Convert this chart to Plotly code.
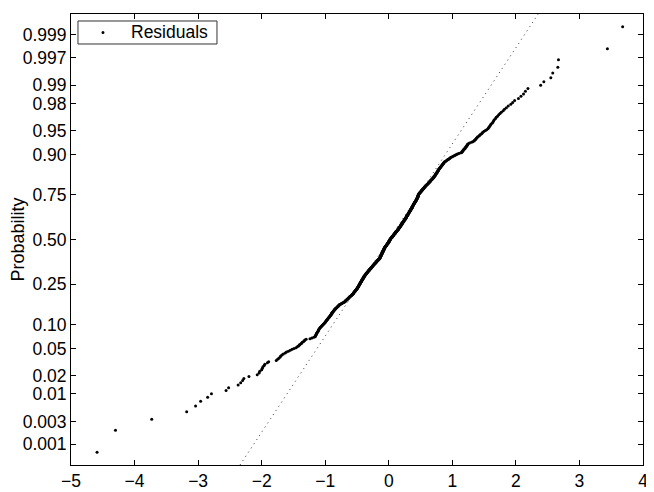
import numpy as np
import plotly.graph_objects as go
from statistics import NormalDist

# sorted residuals (lowest to highest)
resid_low = [-4.59, -4.30, -3.73, -3.18, -3.04, -2.96, -2.85, -2.79, -2.56, -2.52,
             -2.37, -2.33, -2.30, -2.28, -2.20, -2.07, -2.04, -2.03,
             -2.00, -1.99, -1.98, -1.96, -1.95, -1.91, -1.89, -1.77, -1.75, -1.73, -1.71, -1.70,
             -1.68, -1.66, -1.63, -1.61, -1.58, -1.55, -1.52, -1.49, -1.46, -1.44,
             -1.42, -1.41, -1.40, -1.38, -1.37, -1.36, -1.34, -1.33, -1.32, -1.30,
             -1.24, -1.21, -1.18, -1.16, -1.155, -1.15, -1.145, -1.14, -1.135, -1.13,
             -1.125, -1.12, -1.112, -1.108, -1.104, -1.100, -1.096,
             -1.089, -1.081, -1.074, -1.066, -1.059, -1.051, -1.044, -1.036, -1.029, -1.021, -1.014, -1.006,
             -1.000, -0.995, -0.989, -0.984, -0.978, -0.972, -0.967, -0.961, -0.956, -0.950,
             -0.944, -0.939, -0.933, -0.928]

resid_lower_mid = [-0.92, -0.92, -0.91, -0.91, -0.90, -0.90, -0.90, -0.89, -0.89, -0.88,
                   -0.88, -0.87, -0.87, -0.86, -0.86, -0.85, -0.85,
                   -0.84, -0.84, -0.83, -0.82, -0.82, -0.81, -0.81, -0.80, -0.79, -0.79,
                   -0.78, -0.78, -0.77,
                   -0.76, -0.75, -0.74, -0.73, -0.72, -0.71, -0.70, -0.69, -0.69, -0.68,
                   -0.68, -0.67, -0.67,
                   -0.66, -0.65, -0.65, -0.64, -0.64, -0.63, -0.63, -0.62, -0.62, -0.61,
                   -0.61, -0.60, -0.59, -0.59, -0.58, -0.58, -0.57,
                   -0.57, -0.56, -0.56, -0.56, -0.55, -0.55, -0.55, -0.54, -0.54, -0.53,
                   -0.53, -0.53, -0.52, -0.52, -0.52, -0.51,
                   -0.51, -0.50, -0.50, -0.50, -0.50, -0.49, -0.49, -0.49, -0.48, -0.48,
                   -0.48, -0.48, -0.47, -0.47, -0.47, -0.47, -0.46, -0.46, -0.46, -0.46,
                   -0.45, -0.45, -0.45, -0.45,
                   -0.44, -0.44, -0.44, -0.44, -0.43, -0.43, -0.43, -0.43, -0.42, -0.42,
                   -0.42, -0.42, -0.41, -0.41, -0.41, -0.41, -0.40, -0.40, -0.40, -0.40,
                   -0.39, -0.39, -0.39, -0.39,
                   -0.39, -0.38, -0.38, -0.38, -0.37, -0.37, -0.37, -0.36, -0.36, -0.36,
                   -0.35, -0.35, -0.35, -0.34, -0.34, -0.34, -0.33, -0.33, -0.33, -0.32,
                   -0.32, -0.32, -0.31, -0.31, -0.31, -0.31]

resid_center = [-0.30, -0.30, -0.30, -0.29, -0.29, -0.29, -0.28, -0.28, -0.28, -0.27,
                -0.27, -0.27, -0.26, -0.26, -0.26, -0.25, -0.25, -0.25, -0.24, -0.24,
                -0.24, -0.23, -0.23, -0.23, -0.22, -0.22, -0.22, -0.21, -0.21, -0.21,
                -0.20, -0.20, -0.20, -0.19, -0.19, -0.19, -0.18, -0.18, -0.18, -0.17,
                -0.17, -0.17, -0.16, -0.16, -0.16, -0.15, -0.15, -0.15, -0.14, -0.14,
                -0.14, -0.14, -0.14, -0.13, -0.13, -0.13, -0.13, -0.13, -0.13,
                -0.12, -0.12, -0.12, -0.12, -0.12, -0.12, -0.11, -0.11, -0.11, -0.11,
                -0.11, -0.11, -0.10, -0.10, -0.10, -0.10, -0.10, -0.10,
                -0.09, -0.09, -0.09, -0.09, -0.09, -0.09, -0.08, -0.08, -0.08, -0.08,
                -0.08, -0.08, -0.07, -0.07, -0.07, -0.07, -0.07,
                -0.07, -0.06, -0.06, -0.06, -0.06, -0.05, -0.05, -0.05, -0.05,
                -0.04, -0.04, -0.04, -0.04, -0.03, -0.03, -0.03, -0.03,
                -0.02, -0.02, -0.02, -0.02, -0.01, -0.01, -0.01, -0.01,
                0.00, 0.00, 0.00, 0.00, 0.00, 0.01, 0.01, 0.01, 0.01, 0.01, 0.02, 0.02,
                0.02, 0.02, 0.02, 0.03, 0.03, 0.03, 0.03, 0.04, 0.04, 0.04,
                0.05, 0.05, 0.05, 0.05, 0.06, 0.06, 0.06, 0.07, 0.07, 0.07, 0.07,
                0.08, 0.08, 0.08, 0.08, 0.09, 0.09, 0.09, 0.10, 0.10, 0.10, 0.10,
                0.11, 0.11, 0.11, 0.12, 0.12, 0.12, 0.12, 0.13, 0.13, 0.13,
                0.14, 0.14, 0.14, 0.14, 0.15, 0.15, 0.15, 0.15, 0.16, 0.16,
                0.16, 0.16, 0.17, 0.17, 0.17, 0.17, 0.18, 0.18, 0.18, 0.18,
                0.19, 0.19, 0.19, 0.19, 0.20, 0.20, 0.20, 0.20,
                0.21, 0.21, 0.21, 0.21, 0.21, 0.22, 0.22, 0.22, 0.22,
                0.23, 0.23, 0.23, 0.23, 0.24, 0.24, 0.24, 0.24,
                0.25, 0.25, 0.25, 0.25, 0.26, 0.26, 0.26, 0.26,
                0.27, 0.27, 0.27, 0.27, 0.27, 0.28, 0.28, 0.28]

resid_upper_mid = [0.28, 0.28, 0.29, 0.29, 0.29, 0.29, 0.30, 0.30, 0.30, 0.30,
                   0.31, 0.31, 0.31, 0.31, 0.31, 0.32, 0.32, 0.32, 0.32,
                   0.33, 0.33, 0.33, 0.33, 0.34, 0.34, 0.34, 0.34, 0.34,
                   0.35, 0.35, 0.35, 0.35, 0.36, 0.36, 0.36, 0.36, 0.36,
                   0.37, 0.37, 0.37, 0.37,
                   0.37, 0.37, 0.38, 0.38, 0.38, 0.38, 0.39, 0.39, 0.39, 0.39,
                   0.40, 0.40, 0.40, 0.40, 0.41, 0.41, 0.41, 0.41, 0.42, 0.42, 0.42, 0.42,
                   0.43, 0.43, 0.43, 0.43, 0.43, 0.44, 0.44, 0.44, 0.44,
                   0.45, 0.45, 0.45, 0.45, 0.45, 0.46, 0.46,
                   0.46, 0.46, 0.46, 0.46, 0.46, 0.47, 0.47, 0.47, 0.47, 0.47, 0.48, 0.48,
                   0.48, 0.49, 0.49, 0.50, 0.50, 0.50, 0.51, 0.51, 0.51, 0.52, 0.52,
                   0.53, 0.53, 0.53, 0.54, 0.54, 0.55, 0.55, 0.55, 0.56, 0.56,
                   0.57, 0.57, 0.57, 0.58, 0.58, 0.59, 0.59,
                   0.60, 0.60, 0.61, 0.61, 0.62, 0.62, 0.63, 0.63, 0.64, 0.64, 0.65,
                   0.65, 0.65, 0.66, 0.66, 0.67, 0.67, 0.68, 0.68, 0.69, 0.69,
                   0.70, 0.70, 0.71, 0.71, 0.71, 0.72, 0.72,
                   0.73, 0.73, 0.73, 0.74, 0.74, 0.74, 0.75, 0.75, 0.76, 0.76,
                   0.76, 0.77, 0.77, 0.77, 0.78, 0.78, 0.78, 0.79, 0.79, 0.80,
                   0.80, 0.81, 0.81, 0.82, 0.82, 0.83, 0.83, 0.84, 0.84, 0.85,
                   0.85, 0.86, 0.86, 0.87, 0.87, 0.88]

resid_high = [0.89, 0.90, 0.91, 0.92, 0.93, 0.94, 0.95, 0.96, 0.97, 0.98,
              1.00, 1.01, 1.03, 1.04, 1.06, 1.07, 1.09, 1.11, 1.14,
              1.15, 1.15, 1.16, 1.17, 1.17, 1.18, 1.19, 1.20,
              1.20, 1.21, 1.22, 1.22, 1.23, 1.24, 1.24, 1.25,
              1.27, 1.30, 1.32,
              1.34, 1.35, 1.36, 1.37, 1.38, 1.39, 1.40,
              1.42, 1.43, 1.44, 1.46, 1.47, 1.48,
              1.50, 1.52, 1.54, 1.56,
              1.57, 1.58, 1.59, 1.60, 1.61,
              1.63, 1.64, 1.65, 1.66, 1.68, 1.69,
              1.71, 1.73, 1.75, 1.77, 1.80, 1.82,
              1.85, 1.88, 1.92, 1.95, 1.98,
              2.04, 2.08, 2.12, 2.15, 2.19, 2.39, 2.44, 2.55, 2.58, 2.66, 2.67, 3.44, 3.68]

prob_ticks = ['0.001', '0.003', '0.01', '0.02', '0.05', '0.10', '0.25', '0.50',
              '0.75', '0.90', '0.95', '0.98', '0.99', '0.997', '0.999']
x_ticks = [-5, -4, -3, -2, -1, 0, 1, 2, 3, 4]
series_name = 'Residuals'

nd = NormalDist()
x = np.sort(np.array(resid_low + resid_lower_mid + resid_center + resid_upper_mid + resid_high))
n = len(x)
# plotting positions (i - 0.5)/n on the probit scale, as normplot does
z = np.array([nd.inv_cdf((i - 0.5) / n) for i in range(1, n + 1)])
zlim = [nd.inv_cdf(0.25 / n), nd.inv_cdf(1 - 0.25 / n)]

# reference line through the quartiles
q1, q3 = np.percentile(x, [25, 75])
p1, p3 = nd.inv_cdf(0.25), nd.inv_cdf(0.75)
sigma = (q3 - q1) / (p3 - p1)
mu = q1 - sigma * p1
line_z = np.array(zlim)
line_x = mu + sigma * line_z

font = dict(family='Liberation Sans, Arial, Helvetica, sans-serif', size=17.5, color='black')

fig = go.Figure()
fig.add_trace(go.Scatter(x=line_x, y=line_z, mode='lines', showlegend=False,
                         line=dict(color='#333333', width=1, dash='1px,4px')))
fig.add_trace(go.Scatter(x=x, y=z, mode='markers', name=series_name, showlegend=False,
                         marker=dict(color='black', size=3)))

# matlab-style legend box, drawn in paper coordinates
fig.add_shape(type='rect', xref='paper', yref='paper', x0=0.0122, x1=0.2552, y0=0.9335, y1=0.9845,
              line=dict(color='#333333', width=1), fillcolor='white', layer='above')
fig.add_shape(type='circle', xref='paper', yref='paper', xsizemode='pixel', ysizemode='pixel',
              xanchor=0.0559, yanchor=0.959, x0=-1.5, x1=1.5, y0=-1.5, y1=1.5,
              line=dict(width=0), fillcolor='black', layer='above')
fig.add_annotation(text=series_name, xref='paper', yref='paper', x=0.1014, y=0.959,
                   xanchor='left', yanchor='middle', showarrow=False, font=dict(size=17.5))

# the page body has an 8px margin, so the figure is 8px smaller than the window
fig.update_layout(
    width=646, height=484,
    margin=dict(l=63, r=11, t=6, b=27),
    paper_bgcolor='white', plot_bgcolor='white',
    font=font,
    showlegend=False,
)
fig.update_xaxes(range=[-5, 4], tickvals=x_ticks, ticks='inside', ticklen=5,
                 showline=True, linecolor='black', linewidth=1, mirror='ticks',
                 showgrid=False, zeroline=False, tickcolor='black', automargin=False)
fig.update_yaxes(range=zlim, tickvals=[nd.inv_cdf(float(p)) for p in prob_ticks],
                 ticktext=prob_ticks, ticks='inside', ticklen=5,
                 showline=True, linecolor='black', linewidth=1, mirror='ticks',
                 showgrid=False, zeroline=False, tickcolor='black', automargin=False,
                 title=dict(text='Probability', standoff=0, font=dict(size=18)))

fig.write_html("out.html")
